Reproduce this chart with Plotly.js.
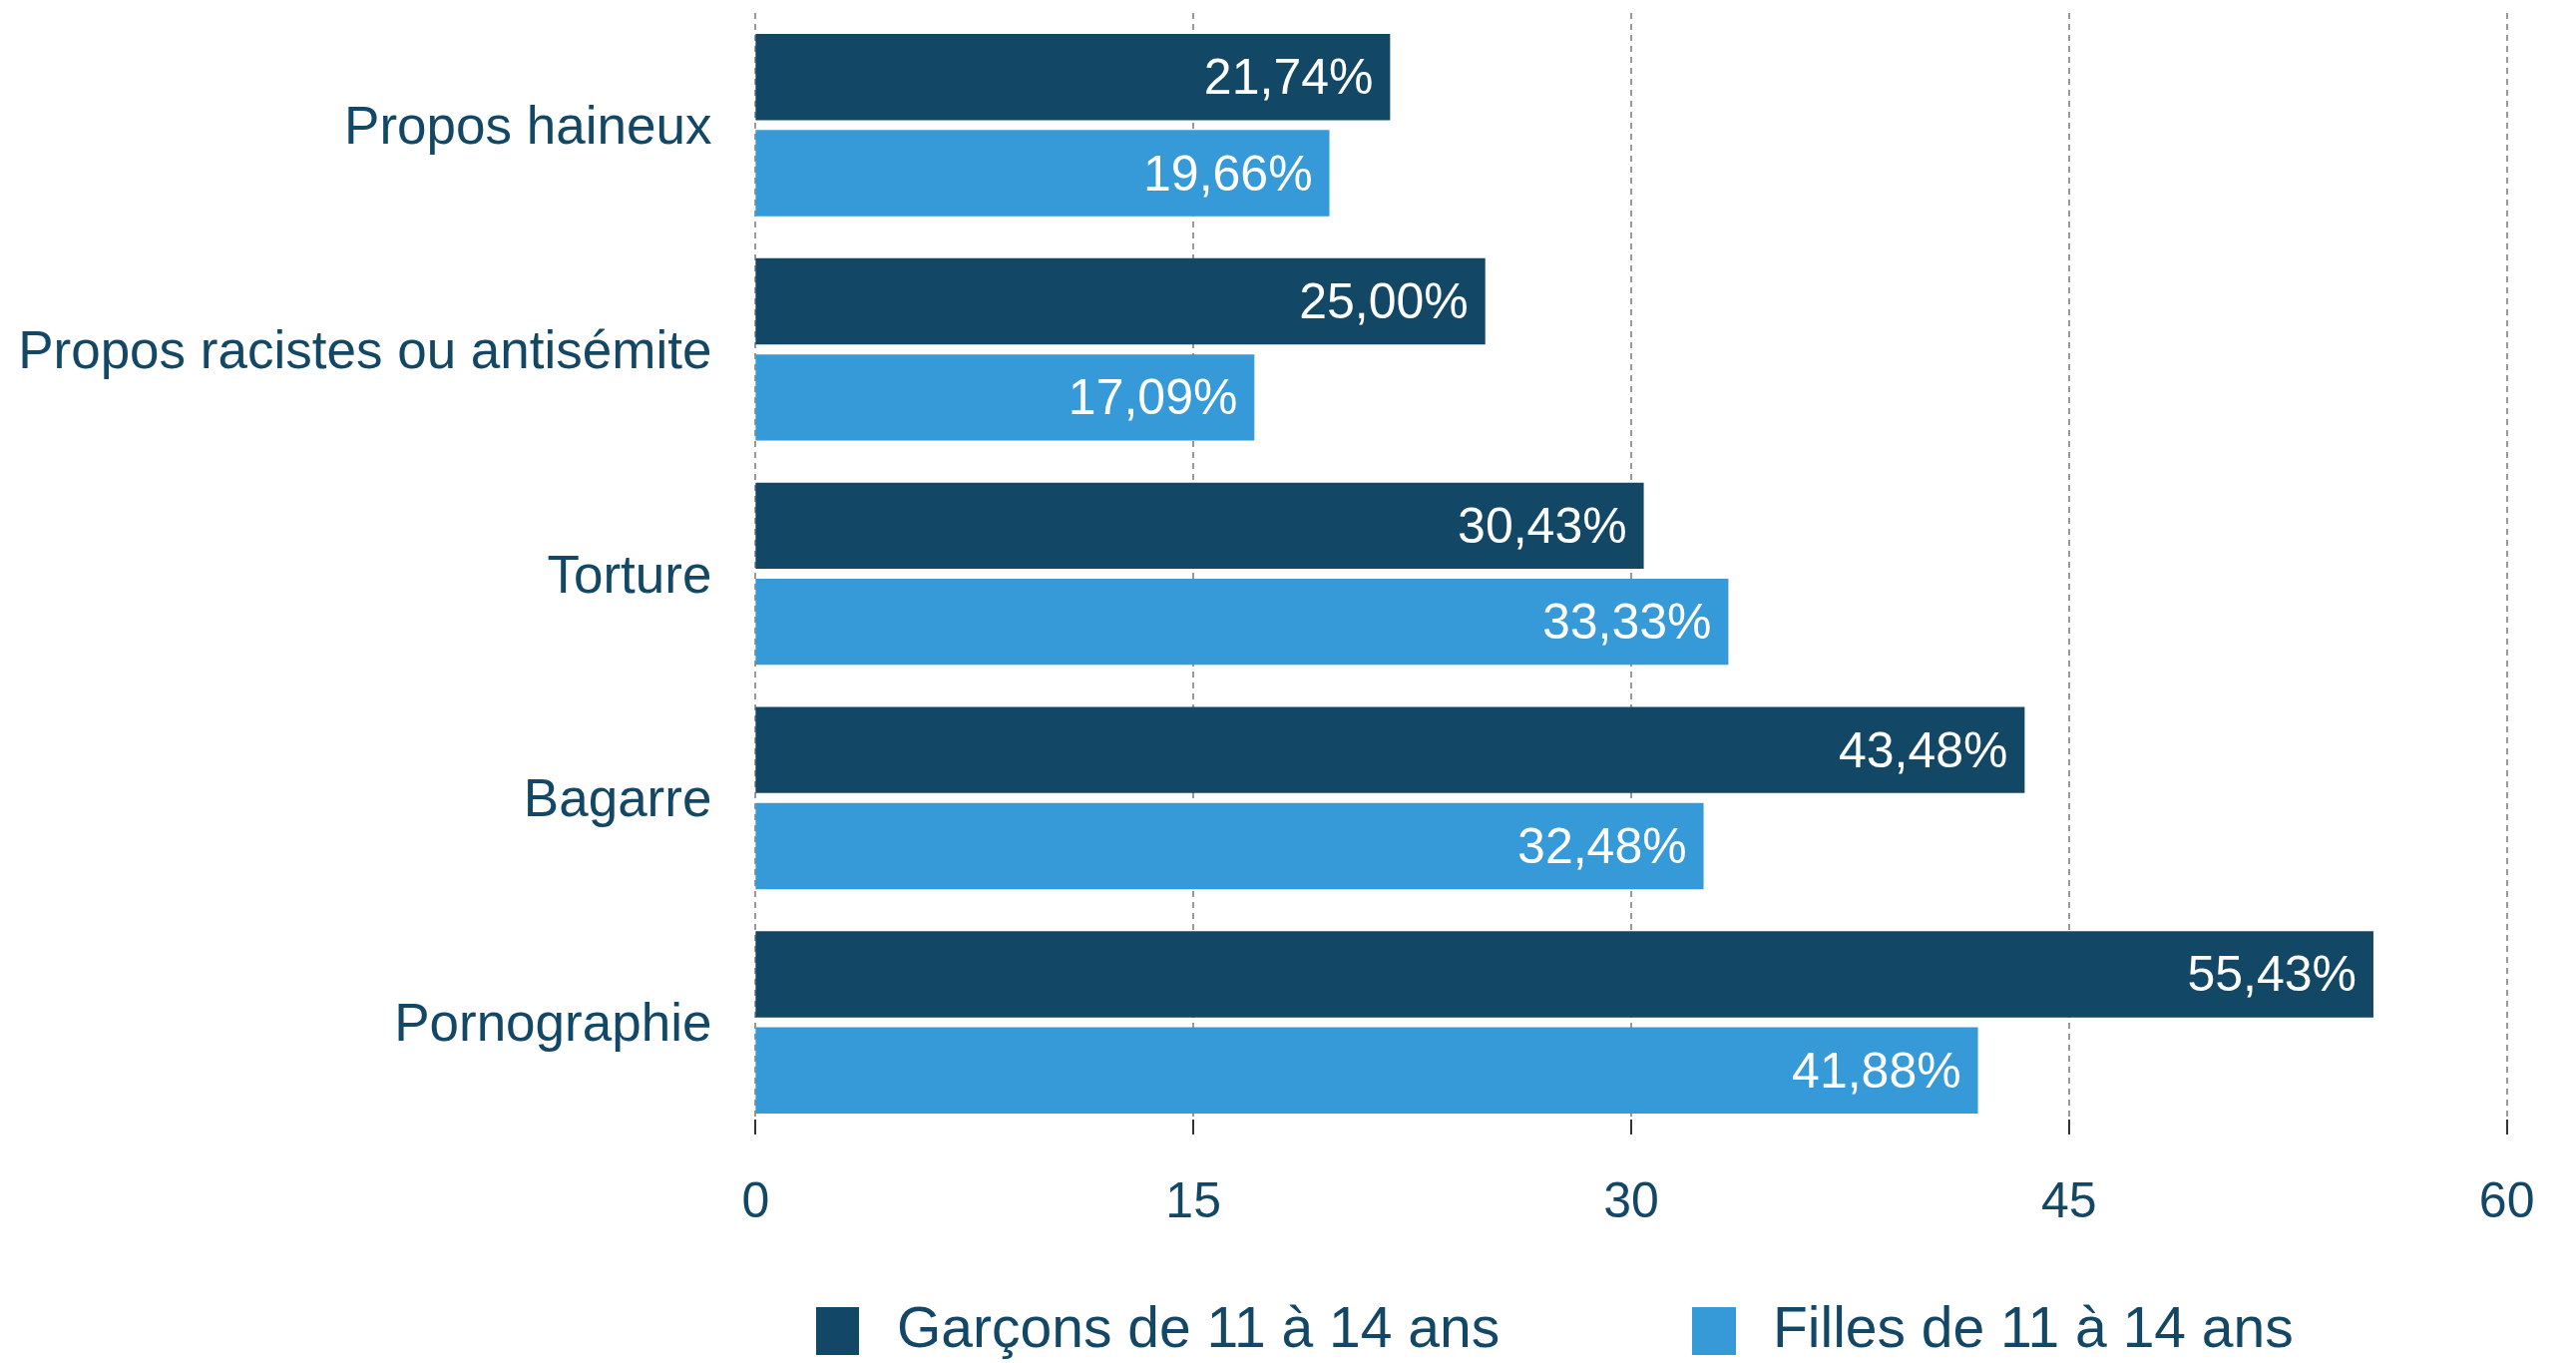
<!DOCTYPE html>
<html>
<head>
<meta charset="utf-8">
<script src="https://cdn.plot.ly/plotly-3.0.1.min.js"></script>
<style>
html,body{margin:0;padding:0;background:#fff;}
#chart{width:2582px;height:1366px;}
</style>
</head>
<body>
<div id="chart"></div>
<script>
// ---- data ----
const categories = ["Propos haineux", "Propos racistes ou antisémite", "Torture", "Bagarre", "Pornographie"];
const seriesNames = ["Garçons de 11 à 14 ans", "Filles de 11 à 14 ans"];
const garcons = [21.74, 25.00, 30.43, 43.48, 55.43];
const filles = [19.66, 17.09, 33.33, 32.48, 41.88];
const xTicks = [0, 15, 30, 45, 60];

// ---- styles ----
const darkBlue = "#134766";
const lightBlue = "#359ad7";
const textColor = "#134766";
const fontFamily = "'Liberation Sans', Arial, sans-serif";

const fmt = v => v.toFixed(2).replace(".", ",") + "%\u00a0";

const W = 2582, H = 1366;
const plotL = 755, plotR = 2515, plotT = 13, plotB = 1137;
const pw = plotR - plotL, ph = plotB - plotT;
const px = x => (x - plotL) / pw;
const py = y => (plotB - y) / ph;

function barTrace(name, vals, color) {
  return {
    type: "bar",
    orientation: "h",
    name: name,
    y: categories,
    x: vals,
    text: vals.map(fmt),
    textposition: "inside",
    insidetextanchor: "end",
    textfont: {family: fontFamily, size: 50, color: "#ffffff"},
    marker: {color: color},
    hoverinfo: "none",
    cliponaxis: false
  };
}

const data = [
  barTrace(seriesNames[0], garcons, darkBlue),
  barTrace(seriesNames[1], filles, lightBlue)
];

// custom legend (large swatches)
const legendColors = [darkBlue, lightBlue];
const swatchX = [[818, 861], [1696, 1740]];
const textX = [897, 1775];
const shapes = [];
const annotations = [];
seriesNames.forEach((n, i) => {
  shapes.push({
    type: "rect", xref: "paper", yref: "paper",
    x0: px(swatchX[i][0]), x1: px(swatchX[i][1]),
    y0: py(1310), y1: py(1358),
    fillcolor: legendColors[i], line: {width: 0}
  });
  annotations.push({
    xref: "paper", yref: "paper",
    x: px(textX[i]), y: py(1330),
    xanchor: "left", yanchor: "middle",
    text: n, showarrow: false,
    font: {family: fontFamily, size: 57, color: textColor}
  });
});

const layout = {
  width: W, height: H,
  margin: {l: plotL, r: W - plotR, t: plotT, b: H - plotB},
  paper_bgcolor: "#ffffff",
  plot_bgcolor: "#ffffff",
  barmode: "group",
  bargap: 0.143,
  bargroupgap: 0.103,
  showlegend: false,
  font: {family: fontFamily, color: textColor},
  xaxis: {
    range: [-0.08, 60.08],
    tickvals: xTicks,
    ticktext: xTicks.map(String),
    showgrid: true,
    gridcolor: "#999999",
    gridwidth: 2,
    griddash: "6px,5px",
    zeroline: false,
    showline: false,
    ticks: "inside",
    ticklen: 15,
    tickwidth: 2,
    tickcolor: "#333333",
    ticklabelstandoff: 32,
    tickfont: {family: fontFamily, size: 50, color: textColor}
  },
  yaxis: {
    autorange: "reversed",
    showgrid: false,
    zeroline: false,
    showline: false,
    ticks: "outside",
    ticklen: 30,
    tickcolor: "rgba(0,0,0,0)",
    tickfont: {family: fontFamily, size: 53, color: textColor}
  },
  shapes: shapes,
  annotations: annotations
};

Plotly.newPlot("chart", data, layout, {displayModeBar: false, staticPlot: true});
</script>
</body>
</html>
